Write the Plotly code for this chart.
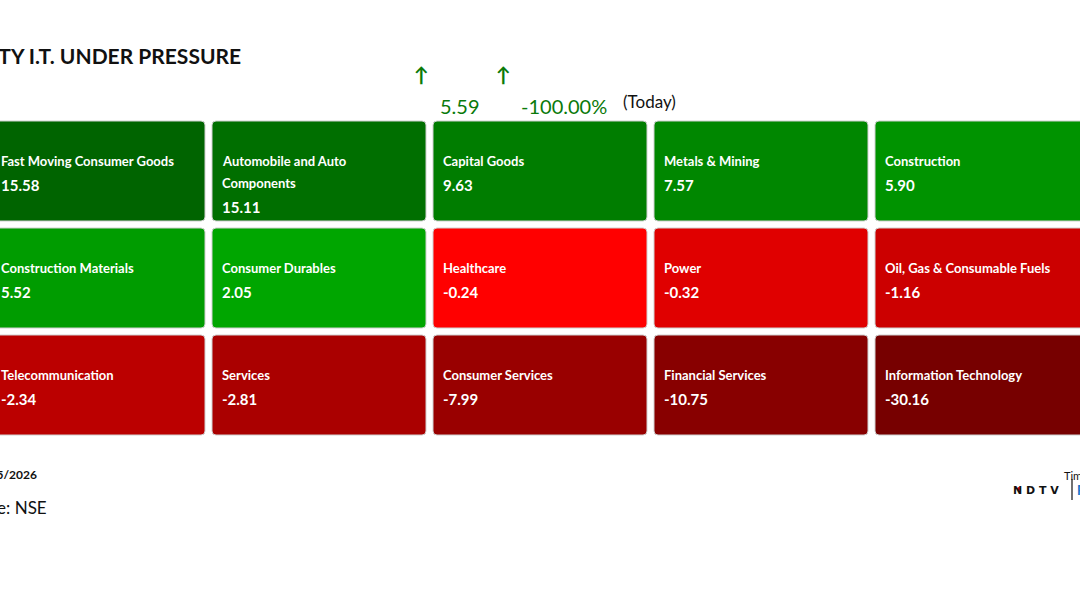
import textwrap
import plotly.graph_objects as go

# ---------------- data ----------------
sectors = [
    "Fast Moving Consumer Goods", "Automobile and Auto Components", "Capital Goods",
    "Metals & Mining", "Construction",
    "Construction Materials", "Consumer Durables", "Healthcare", "Power",
    "Oil, Gas & Consumable Fuels",
    "Telecommunication", "Services", "Consumer Services", "Financial Services",
    "Information Technology",
]
changes = [15.58, 15.11, 9.63, 7.57, 5.90,
           5.52, 2.05, -0.24, -0.32, -1.16,
           -2.34, -2.81, -7.99, -10.75, -30.16]
tile_colors = ["#006400", "#006f00", "#007d00", "#008700", "#009300",
               "#009c00", "#00a600", "#ff0000", "#e00000", "#cc0000",
               "#bb0000", "#aa0000", "#990000", "#880000", "#770000"]
title_text = "NIFTY I.T. UNDER PRESSURE"
index_value = "5.59"
index_change = "-100.00%"
date_text = "15/05/2026"
source_text = "Source: NSE"

N_COLS = 5
W, H = 1080, 600
COL_PX, ROW_PX = 221, 107          # pitch in pixels
TILE_W, TILE_H = 214 / COL_PX, 100 / ROW_PX
X0 = 9 / COL_PX                    # first column starts 9 px left of canvas
YT = 121 / ROW_PX                  # first row top offset

fig = go.Figure()


def rounded_path(x0, y0, x1, y1, rx, ry):
    return (f"M{x0+rx},{y0} L{x1-rx},{y0} Q{x1},{y0} {x1},{y0+ry} "
            f"L{x1},{y1-ry} Q{x1},{y1} {x1-rx},{y1} "
            f"L{x0+rx},{y1} Q{x0},{y1} {x0},{y1-ry} "
            f"L{x0},{y0+ry} Q{x0},{y0} {x0+rx},{y0} Z")


rx, ry = 4 / COL_PX, 4 / ROW_PX
for i, (name, val, col) in enumerate(zip(sectors, changes, tile_colors)):
    c, r = i % N_COLS, i // N_COLS
    fig.add_shape(type="path", xref="x", yref="y",
                  path=rounded_path(c, r, c + TILE_W, r + TILE_H, rx, ry),
                  fillcolor=col, line=dict(color="#d0d0d0", width=1), layer="below")
    lines = textwrap.wrap(name, width=27)
    tx = c + 10 / COL_PX
    for k, ln in enumerate(lines):
        fig.add_annotation(x=tx, y=r + (40 + 22 * k) / ROW_PX, xref="x", yref="y",
                           text=ln, showarrow=False, xanchor="left", yanchor="middle",
                           xshift=-2,
                           font=dict(family="Lato", size=13, color="white", weight="bold"))
    fig.add_annotation(x=tx, y=r + (64 + 22 * (len(lines) - 1)) / ROW_PX, xref="x", yref="y",
                       text=f"{val:.2f}", showarrow=False, xanchor="left", yanchor="middle",
                       xshift=-2,
                       font=dict(family="Lato", size=15, color="white", weight="bold"))

# invisible trace so axes exist
fig.add_trace(go.Scatter(x=[1], y=[1], mode="markers", marker=dict(opacity=0),
                         hoverinfo="skip", showlegend=False))


def px(x, y):
    return x / W, 1 - y / H


def ann(x, y, text, xanchor="left", family="Lato", **font):
    xp, yp = px(x, y)
    fig.add_annotation(x=xp, y=yp, xref="paper", yref="paper", text=text,
                       showarrow=False, xanchor=xanchor, yanchor="middle",
                       font=dict(family=family, **font))


ann(243, 55, title_text, xanchor="right", size=21, color="#111111", weight="bold")
ann(421, 74, "↑", xanchor="center", size=20, color="#0a7a0a", weight="bold")
ann(503, 74, "↑", xanchor="center", size=20, color="#0a7a0a", weight="bold")
ann(438, 106, index_value, size=20, color="#0a7a0a")
ann(519, 106, index_change, size=20, color="#0a7a0a")
ann(621, 101, "(Today)", size=17, color="#111111")
ann(39, 474, date_text, xanchor="right", size=12, color="#111111", weight="bold")
ann(49, 507, source_text, xanchor="right", size=17, color="#111111")

# logo
ann(1062, 475, "Times", size=11, color="#111111")
ann(1061, 490, "N D T V", xanchor="right", family="DejaVu Sans", size=11,
    color="#111111", weight="bold")
ann(1075, 490, "Profit", size=13, color="#1a73c8", weight="bold")
x_bar, y_b0, y_b1 = 1072, 479, 500
fig.add_shape(type="line", xref="paper", yref="paper",
              x0=px(x_bar, 0)[0], x1=px(x_bar, 0)[0], y0=px(0, y_b0)[1], y1=px(0, y_b1)[1],
              line=dict(color="#111111", width=1.2))
fig.add_shape(type="circle", xref="paper", yref="paper",
              x0=px(1017, 0)[0], x1=px(1021, 0)[0], y0=px(0, 487)[1], y1=px(0, 491)[1],
              fillcolor="#e00000", line=dict(width=0))

fig.update_xaxes(range=[X0, X0 + W / COL_PX], visible=False, fixedrange=True)
# y reversed: top of canvas at -YT, bottom at -YT + H/ROW_PX
fig.update_yaxes(range=[-YT + H / ROW_PX, -YT], visible=False, fixedrange=True)

fig.update_layout(width=W, height=H, margin=dict(l=0, r=0, t=0, b=0),
                  plot_bgcolor="white", paper_bgcolor="white", showlegend=False,
                  hovermode=False)

fig.write_html("out.html", config={"displayModeBar": False},
               post_script="document.body.style.margin='0px';")
